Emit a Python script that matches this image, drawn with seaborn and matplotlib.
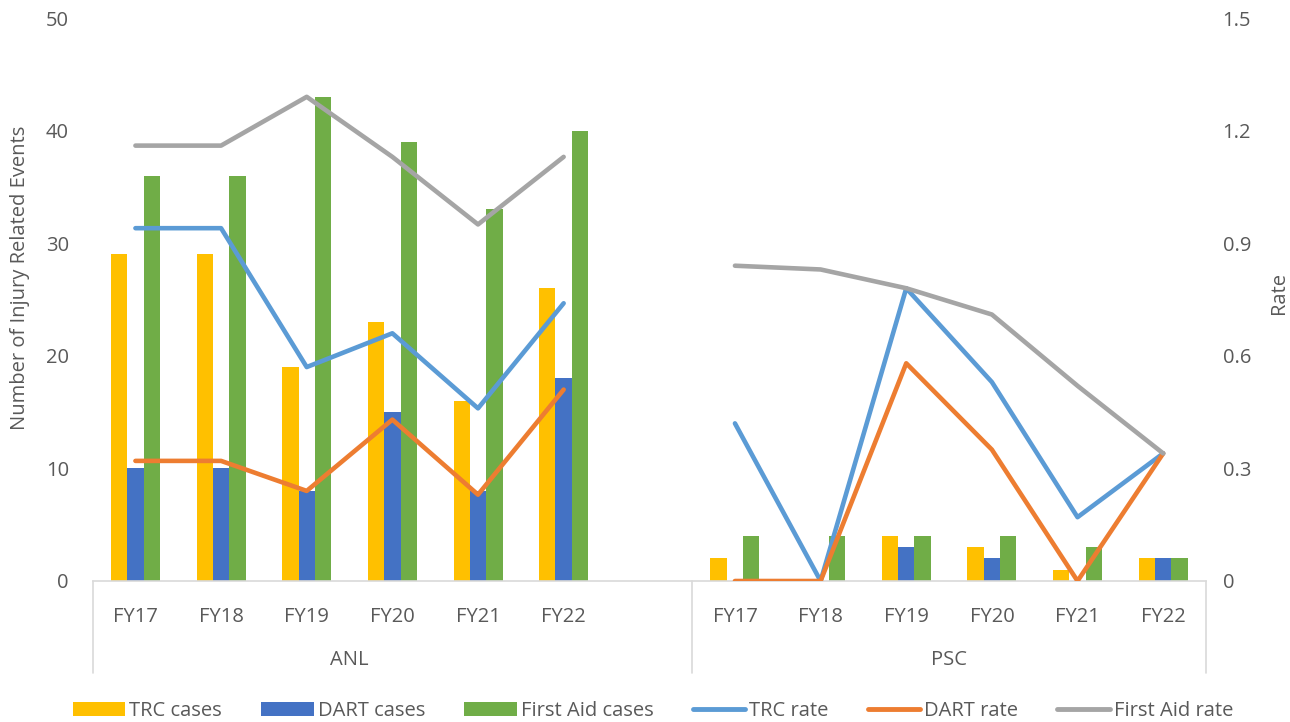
import numpy as np
import pandas as pd
import matplotlib
matplotlib.use("Agg")
import matplotlib.pyplot as plt
from matplotlib.patches import Patch
from matplotlib.lines import Line2D
from matplotlib.ticker import FuncFormatter, FixedLocator
import seaborn as sns

# ---- data -------------------------------------------------------------
sites = ["ANL", "PSC"]
years = ["FY17", "FY18", "FY19", "FY20", "FY21", "FY22"]

anl_trc_cases = [29, 29, 19, 23, 16, 26]
anl_dart_cases = [10, 10, 8, 15, 8, 18]
anl_fa_cases = [36, 36, 43, 39, 33, 40]

psc_trc_cases = [2, 0, 4, 3, 1, 2]
psc_dart_cases = [0, 0, 3, 2, 0, 2]
psc_fa_cases = [4, 4, 4, 4, 3, 2]

anl_trc_rate = [0.94, 0.94, 0.57, 0.66, 0.46, 0.74]
anl_dart_rate = [0.32, 0.32, 0.24, 0.43, 0.23, 0.51]
anl_fa_rate = [1.16, 1.16, 1.29, 1.13, 0.95, 1.13]

psc_trc_rate = [0.42, 0.00, 0.78, 0.53, 0.17, 0.34]
psc_dart_rate = [0.00, 0.00, 0.58, 0.35, 0.00, 0.34]
psc_fa_rate = [0.84, 0.83, 0.78, 0.71, 0.52, 0.34]

case_names = ["TRC cases", "DART cases", "First Aid cases"]
rate_names = ["TRC rate", "DART rate", "First Aid rate"]
case_colors = ["#FFC000", "#4472C4", "#70AD47"]
rate_colors = ["#5B9BD5", "#ED7D31", "#A5A5A5"]

cases = {
    "ANL": [anl_trc_cases, anl_dart_cases, anl_fa_cases],
    "PSC": [psc_trc_cases, psc_dart_cases, psc_fa_cases],
}
rates = {
    "ANL": [anl_trc_rate, anl_dart_rate, anl_fa_rate],
    "PSC": [psc_trc_rate, psc_dart_rate, psc_fa_rate],
}

# category slots: ANL years, one empty spacer slot, PSC years
order = [f"ANL {y}" for y in years] + ["gap"] + [f"PSC {y}" for y in years]
slot_labels = years + [""] + years

bar_rows, line_rows = [], []
for site in sites:
    for name, vals in zip(case_names, cases[site]):
        for y, v in zip(years, vals):
            bar_rows.append({"slot": f"{site} {y}", "series": name, "value": v})
    for name, vals in zip(rate_names, rates[site]):
        for y, v in zip(years, vals):
            line_rows.append({"pos": order.index(f"{site} {y}"), "series": name,
                              "site": site, "rate": v})
bars_df = pd.DataFrame(bar_rows)
lines_df = pd.DataFrame(line_rows)

# ---- styling ----------------------------------------------------------
sns.set_theme(style="white")
plt.rcParams["font.family"] = ["Open Sans", "DejaVu Sans"]
text_color = "#595959"
fs = 14.5

fig = plt.figure(figsize=(12.9, 7.22), dpi=100)
W, H = 1290, 722
x0, x1, y_top, y_bot = 92.6, 1206, 18, 581
ax = fig.add_axes([x0 / W, 1 - y_bot / H, (x1 - x0) / W, (y_bot - y_top) / H])

sns.barplot(data=bars_df, x="slot", y="value", hue="series", order=order,
            hue_order=case_names, palette=case_colors, width=0.572, gap=0,
            saturation=1, linewidth=0, ax=ax, legend=False)

ax2 = ax.twinx()
sns.lineplot(data=lines_df, x="pos", y="rate", hue="series", units="site",
             estimator=None, hue_order=rate_names, palette=rate_colors,
             linewidth=3.3, sort=False, ax=ax2, legend=False)
for ln in ax2.get_lines():
    ln.set_solid_capstyle("round")
    ln.set_solid_joinstyle("round")

# ---- axes -------------------------------------------------------------
ax.set_xlim(-0.5, len(order) - 0.5)
ax.set_ylim(0, 50)
ax2.set_ylim(0, 1.5)
ax.yaxis.set_major_locator(FixedLocator([0, 10, 20, 30, 40, 50]))
ax2.yaxis.set_major_locator(FixedLocator([0, 0.3, 0.6, 0.9, 1.2, 1.5]))
ax2.yaxis.set_major_formatter(FuncFormatter(lambda v, p: "0" if v == 0 else f"{v:.1f}"))

ax.set_xticks(range(len(order)))
ax.set_xticklabels(slot_labels)
ax.tick_params(axis="x", length=0, pad=19, labelsize=fs, labelcolor=text_color)
ax.tick_params(axis="y", length=0, pad=17, labelsize=fs, labelcolor=text_color)
ax2.tick_params(axis="y", length=0, pad=12, labelsize=fs, labelcolor=text_color)

ax.set_xlabel("")
ax.set_ylabel("Number of Injury Related Events", fontsize=fs, color=text_color,
              va="center")
ax.yaxis.set_label_coords((20 - x0) / (x1 - x0), (y_bot - 278) / (y_bot - y_top))
ax2.set_ylabel("Rate", fontsize=fs, color=text_color, va="center", rotation=90)
ax2.yaxis.set_label_coords((1279 - x0) / (x1 - x0), (y_bot - 293) / (y_bot - y_top))

for a in (ax, ax2):
    for s in a.spines.values():
        s.set_visible(False)
    a.grid(False)
ax.spines["bottom"].set_visible(True)
ax.spines["bottom"].set_color("#D9D9D9")
ax.spines["bottom"].set_linewidth(1.2)

# group separators and group labels below the axis
ph = y_bot - y_top
sep_bottom = -(673 - y_bot) / ph
trans = ax.get_xaxis_transform()
for xb in [-0.5, 6.5, len(order) - 0.5]:
    ax.plot([xb, xb], [0, sep_bottom], color="#D9D9D9", lw=1.2,
            transform=trans, clip_on=False)
group_y = -(660 - y_bot) / ph
ax.text(2.5, group_y, "ANL", transform=trans, ha="center", va="center",
        fontsize=fs, color=text_color)
ax.text(9.5, group_y, "PSC", transform=trans, ha="center", va="center",
        fontsize=fs, color=text_color)

# ---- legend -----------------------------------------------------------
handles = [Patch(facecolor=c, edgecolor="none") for c in case_colors] + \
          [Line2D([], [], color=c, lw=3.5, solid_capstyle="round") for c in rate_colors]
labels = case_names + rate_names
fig.legend(handles, labels, loc="center", bbox_to_anchor=(653 / W, 1 - 711 / H),
           ncol=6, frameon=False, fontsize=fs, labelcolor=text_color,
           handlelength=2.6, handleheight=0.7, handletextpad=0.2,
           columnspacing=1.95)

fig.savefig("out.png", dpi=100, facecolor="white")
